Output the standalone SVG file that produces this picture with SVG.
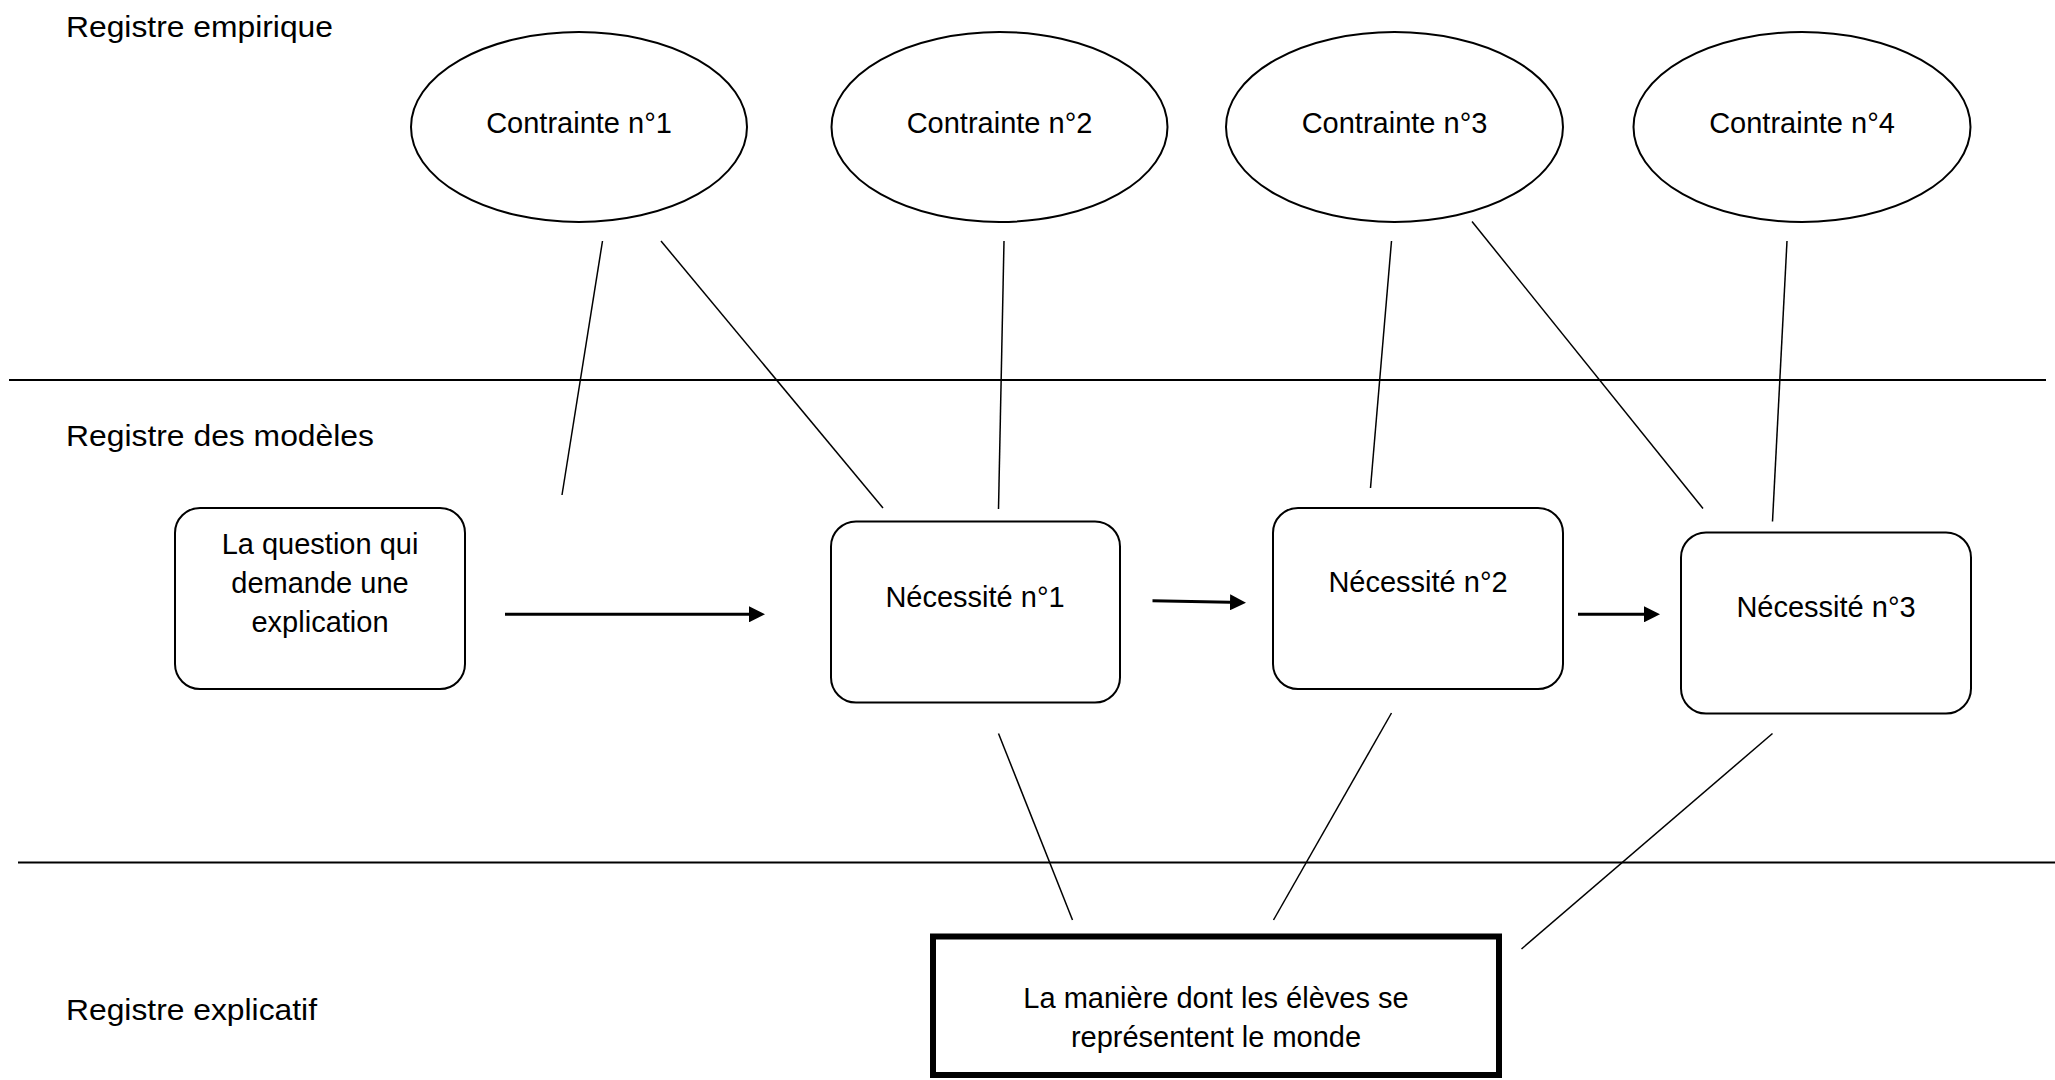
<svg xmlns="http://www.w3.org/2000/svg" width="2055" height="1080" viewBox="0 0 2055 1080">
  <style>
    text { font-family: "Liberation Sans", Arial, sans-serif; fill: #000; }
    .lbl { font-size: 30px; }
    .nt { font-size: 29px; text-anchor: middle; }
    .ell { fill: #fff; stroke: #000; stroke-width: 2; }
    .box { fill: #fff; stroke: #000; stroke-width: 2; }
    .sep { stroke: #000; stroke-width: 2; fill: none; }
    .cn { stroke: #000; stroke-width: 1.5; fill: none; }
    .arr { stroke: #000; stroke-width: 3; fill: none; marker-end: url(#head); }
  </style>
  <defs>
    <marker id="head" markerUnits="userSpaceOnUse" markerWidth="16" markerHeight="16" viewBox="0 0 16 16" refX="0" refY="8" orient="auto">
      <path d="M0,0 L16,8 L0,16 Z" fill="#000"/>
    </marker>
  </defs>
  <rect width="2055" height="1080" fill="#fff"/>

  <g id="registers">
    <line class="sep" x1="9" y1="380" x2="2046" y2="380"/>
    <line class="sep" x1="18" y1="862.5" x2="2055" y2="862.5"/>
    <text class="lbl" x="66" y="36.5" textLength="267" lengthAdjust="spacingAndGlyphs">Registre empirique</text>
    <text class="lbl" x="66" y="445.5" textLength="308" lengthAdjust="spacingAndGlyphs">Registre des modèles</text>
    <text class="lbl" x="66" y="1020" textLength="251" lengthAdjust="spacingAndGlyphs">Registre explicatif</text>
  </g>

  <g id="connectors">
    <line class="cn" x1="602.5" y1="241" x2="562" y2="495"/>
    <line class="cn" x1="661" y1="241" x2="883" y2="508"/>
    <line class="cn" x1="1004" y1="241" x2="998.5" y2="509"/>
    <line class="cn" x1="1391.5" y1="241" x2="1370.5" y2="488"/>
    <line class="cn" x1="1472" y1="221.5" x2="1703" y2="508.5"/>
    <line class="cn" x1="1787" y1="241" x2="1772.5" y2="521.5"/>
    <line class="cn" x1="998.5" y1="733.5" x2="1072.5" y2="920"/>
    <line class="cn" x1="1391.5" y1="713" x2="1273.5" y2="920"/>
    <line class="cn" x1="1772.5" y1="733.5" x2="1521.5" y2="949"/>
    <line class="arr" x1="505" y1="614.3" x2="749" y2="614.3"/>
    <line class="arr" x1="1152.5" y1="600.7" x2="1230" y2="602.3"/>
    <line class="arr" x1="1578" y1="614.3" x2="1644" y2="614.3"/>
  </g>

  <g id="contrainte1">
    <ellipse class="ell" cx="579" cy="127" rx="168" ry="95"/>
    <text class="nt" x="579" y="133">Contrainte n°1</text>
  </g>
  <g id="contrainte2">
    <ellipse class="ell" cx="999.5" cy="127" rx="168" ry="95"/>
    <text class="nt" x="999.5" y="133">Contrainte n°2</text>
  </g>
  <g id="contrainte3">
    <ellipse class="ell" cx="1394.5" cy="127" rx="168.5" ry="95"/>
    <text class="nt" x="1394.5" y="133">Contrainte n°3</text>
  </g>
  <g id="contrainte4">
    <ellipse class="ell" cx="1802" cy="127" rx="168.5" ry="95"/>
    <text class="nt" x="1802" y="133">Contrainte n°4</text>
  </g>

  <g id="question">
    <rect class="box" x="175" y="508" width="290" height="181" rx="25" ry="25"/>
    <text class="nt" x="320" y="554">La question qui</text>
    <text class="nt" x="320" y="593">demande une</text>
    <text class="nt" x="320" y="631.5">explication</text>
  </g>
  <g id="necessite1">
    <rect class="box" x="831" y="521.5" width="289" height="181" rx="25" ry="25"/>
    <text class="nt" x="975" y="606.5">Nécessité n°1</text>
  </g>
  <g id="necessite2">
    <rect class="box" x="1273" y="508" width="290" height="181" rx="25" ry="25"/>
    <text class="nt" x="1418" y="592">Nécessité n°2</text>
  </g>
  <g id="necessite3">
    <rect class="box" x="1681" y="532.5" width="290" height="181" rx="25" ry="25"/>
    <text class="nt" x="1826" y="617">Nécessité n°3</text>
  </g>
  <g id="maniere">
    <rect x="933" y="936.5" width="566" height="138.5" fill="#fff" stroke="#000" stroke-width="6"/>
    <text class="nt" x="1216" y="1008">La manière dont les élèves se</text>
    <text class="nt" x="1216" y="1046.5">représentent le monde</text>
  </g>
</svg>
